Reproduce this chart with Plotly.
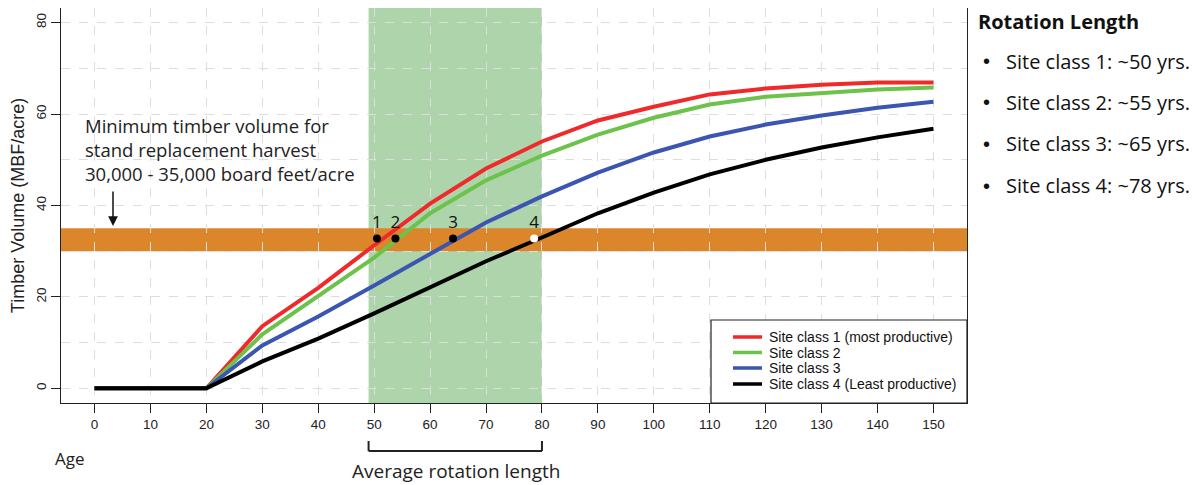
import plotly.graph_objects as go

ages = [0, 10, 20, 30, 40, 50, 60, 70, 80, 90, 100, 110, 120, 130, 140, 150]
site1 = [0, 0, 0, 13.6, 22.0, 31.3, 40.4, 48.1, 54.0, 58.6, 61.6, 64.3, 65.6, 66.4, 66.9, 66.9]
site2 = [0, 0, 0, 11.8, 20.1, 28.6, 38.3, 45.5, 50.9, 55.5, 59.2, 62.1, 63.8, 64.7, 65.4, 65.8]
site3 = [0, 0, 0, 9.4, 15.7, 22.5, 29.3, 36.3, 42.0, 47.2, 51.6, 55.1, 57.7, 59.7, 61.4, 62.7]
site4 = [0, 0, 0, 5.9, 10.9, 16.4, 22.1, 27.8, 33.0, 38.3, 42.8, 46.8, 50.0, 52.7, 54.9, 56.8]
series_names = ["Site class 1 (most productive)", "Site class 2", "Site class 3",
                "Site class 4 (Least productive)"]
series_colors = ["#ee2a2a", "#6cc24a", "#3b55b0", "#000000"]

rot_x = [50.5, 53.8, 64.1, 78.6]
rot_y = [32.8, 32.8, 32.8, 32.8]
rot_labels = ["1", "2", "3", "4"]
rot_fill = ["black", "black", "black", "white"]

band_age = [49, 80]
band_vol = [30, 35]

x_ticks = list(range(0, 151, 10))
y_ticks = [0, 20, 40, 60, 80]

panel_title = "Rotation Length"
panel_items = ["Site class 1: ~50 yrs.", "Site class 2: ~55 yrs.",
               "Site class 3: ~65 yrs.", "Site class 4: ~78 yrs."]

# layout geometry (viewport pixels; page body has an 8px offset)
OFF = 8
PL, PR, PT, PB = 61, 967, 8, 403
PW, PH = PR - PL, PB - PT


def px(v):
    return (v - PL) / PW


def py(v):
    return (PB - v) / PH


fig = go.Figure()

for vals, name, col in zip([site1, site2, site3, site4], series_names, series_colors):
    fig.add_trace(go.Scatter(x=ages, y=vals, mode="lines", name=name, showlegend=False,
                             line=dict(color=col, width=4)))

fig.add_trace(go.Scatter(x=rot_x, y=rot_y, mode="markers+text", text=rot_labels,
                         textposition="top center",
                         textfont=dict(family="Open Sans", size=17, color="#111"),
                         marker=dict(color=rot_fill, size=8, line=dict(width=0)),
                         showlegend=False, cliponaxis=False))

shapes = [
    dict(type="rect", xref="x", yref="paper", x0=band_age[0], x1=band_age[1], y0=0, y1=1,
         fillcolor="#aed4ac", line=dict(width=0), layer="below"),
    dict(type="rect", xref="paper", yref="y", x0=0, x1=1, y0=band_vol[0], y1=band_vol[1],
         fillcolor="#dc862b", line=dict(width=0), layer="below"),
    # bracket
    dict(type="line", xref="x", yref="paper", x0=band_age[0], x1=band_age[1], y0=py(451), y1=py(451),
         line=dict(color="#222", width=2)),
    dict(type="line", xref="x", yref="paper", x0=band_age[0], x1=band_age[0], y0=py(451), y1=py(441),
         line=dict(color="#222", width=2)),
    dict(type="line", xref="x", yref="paper", x0=band_age[1], x1=band_age[1], y0=py(451), y1=py(441),
         line=dict(color="#222", width=2)),
    # legend box
    dict(type="rect", xref="paper", yref="paper", x0=px(711), x1=1, y0=0, y1=py(320),
         fillcolor="white", line=dict(color="#222", width=1.2), layer="above"),
]

annotations = [
    dict(xref="paper", yref="paper", x=px(83), y=py(111), xanchor="left", yanchor="top",
         showarrow=False, align="left",
         text="Minimum timber volume for<br>stand replacement harvest<br>30,000 - 35,000 board feet/acre",
         font=dict(family="Open Sans", size=18.5, color="#222")),
    dict(xref="paper", yref="paper", x=px(113), y=py(226), ax=0, ay=-36,
         showarrow=True, arrowhead=2, arrowsize=1.3, arrowwidth=1.5, arrowcolor="#111", text=""),
    dict(xref="paper", yref="paper", x=px(70), y=py(458), xanchor="center", yanchor="middle",
         showarrow=False, text="Age", font=dict(family="Open Sans", size=17, color="#222")),
    dict(xref="paper", yref="paper", x=px(456), y=py(471), xanchor="center", yanchor="middle",
         showarrow=False, text="Average rotation length",
         font=dict(family="Open Sans", size=19, color="#222")),
    dict(xref="paper", yref="paper", x=px(977), y=py(21.5), xanchor="left", yanchor="middle",
         showarrow=False, text="<b>" + panel_title + "</b>", borderpad=0,
         font=dict(family="Open Sans", size=20, color="#111")),
]
item_y = [61, 102, 144, 186]
for yy, item in zip(item_y, panel_items):
    annotations.append(dict(xref="paper", yref="paper", x=px(986), y=py(yy), xanchor="center",
                            yanchor="middle", showarrow=False, text="\u2022",
                            font=dict(family="Liberation Sans, Arial", size=20, color="#111")))
    annotations.append(dict(xref="paper", yref="paper", x=px(1004), y=py(yy), xanchor="left",
                            yanchor="middle", showarrow=False, text=item,
                            font=dict(family="Open Sans", size=20, color="#111")))

# manual legend entries
leg_y = [337, 352.5, 368, 384]
for yy, name, col in zip(leg_y, series_names, series_colors):
    shapes.append(dict(type="line", xref="paper", yref="paper", x0=px(733), x1=px(762),
                       y0=py(yy), y1=py(yy), line=dict(color=col, width=3.5), layer="above"))
    annotations.append(dict(xref="paper", yref="paper", x=px(767), y=py(yy), xanchor="left",
                            yanchor="middle", showarrow=False, text=name,
                            font=dict(family="Liberation Sans, Arial", size=14, color="#111")))

fig.update_layout(
    width=1201 - OFF, height=485 - OFF,
    margin=dict(l=PL - OFF, r=1201 - PR, t=PT - OFF, b=485 - PB),
    paper_bgcolor="white", plot_bgcolor="white",
    shapes=shapes, annotations=annotations, showlegend=False,
    font=dict(family="Liberation Sans, Arial", color="#222"),
    xaxis=dict(range=[-6, 156], tickvals=x_ticks, ticks="outside", ticklen=9,
               tickcolor="#222", showline=True, linecolor="#222", linewidth=1.2, mirror=True,
               showgrid=True, gridcolor="#dddddd", griddash="dash", gridwidth=1,
               zeroline=False, tickfont=dict(size=13.5, color="#222")),
    yaxis=dict(range=[-3.2, 83.2], tickvals=y_ticks, ticks="outside", ticklen=9,
               tickcolor="#222", showline=True, linecolor="#222", linewidth=1.2, mirror=True,
               showgrid=True, gridcolor="#dddddd", griddash="dash", gridwidth=1,
               zeroline=False, tickangle=-90, tickfont=dict(size=13.5, color="#222"),
               title=dict(text="Timber Volume (MBF/acre)", font=dict(size=18, color="#222"),
                          standoff=6),
               minor=dict(tickvals=[10, 30, 50, 70], showgrid=True, gridcolor="#dddddd",
                          griddash="dash", ticks="")),
)

fig.write_html("out.html")
